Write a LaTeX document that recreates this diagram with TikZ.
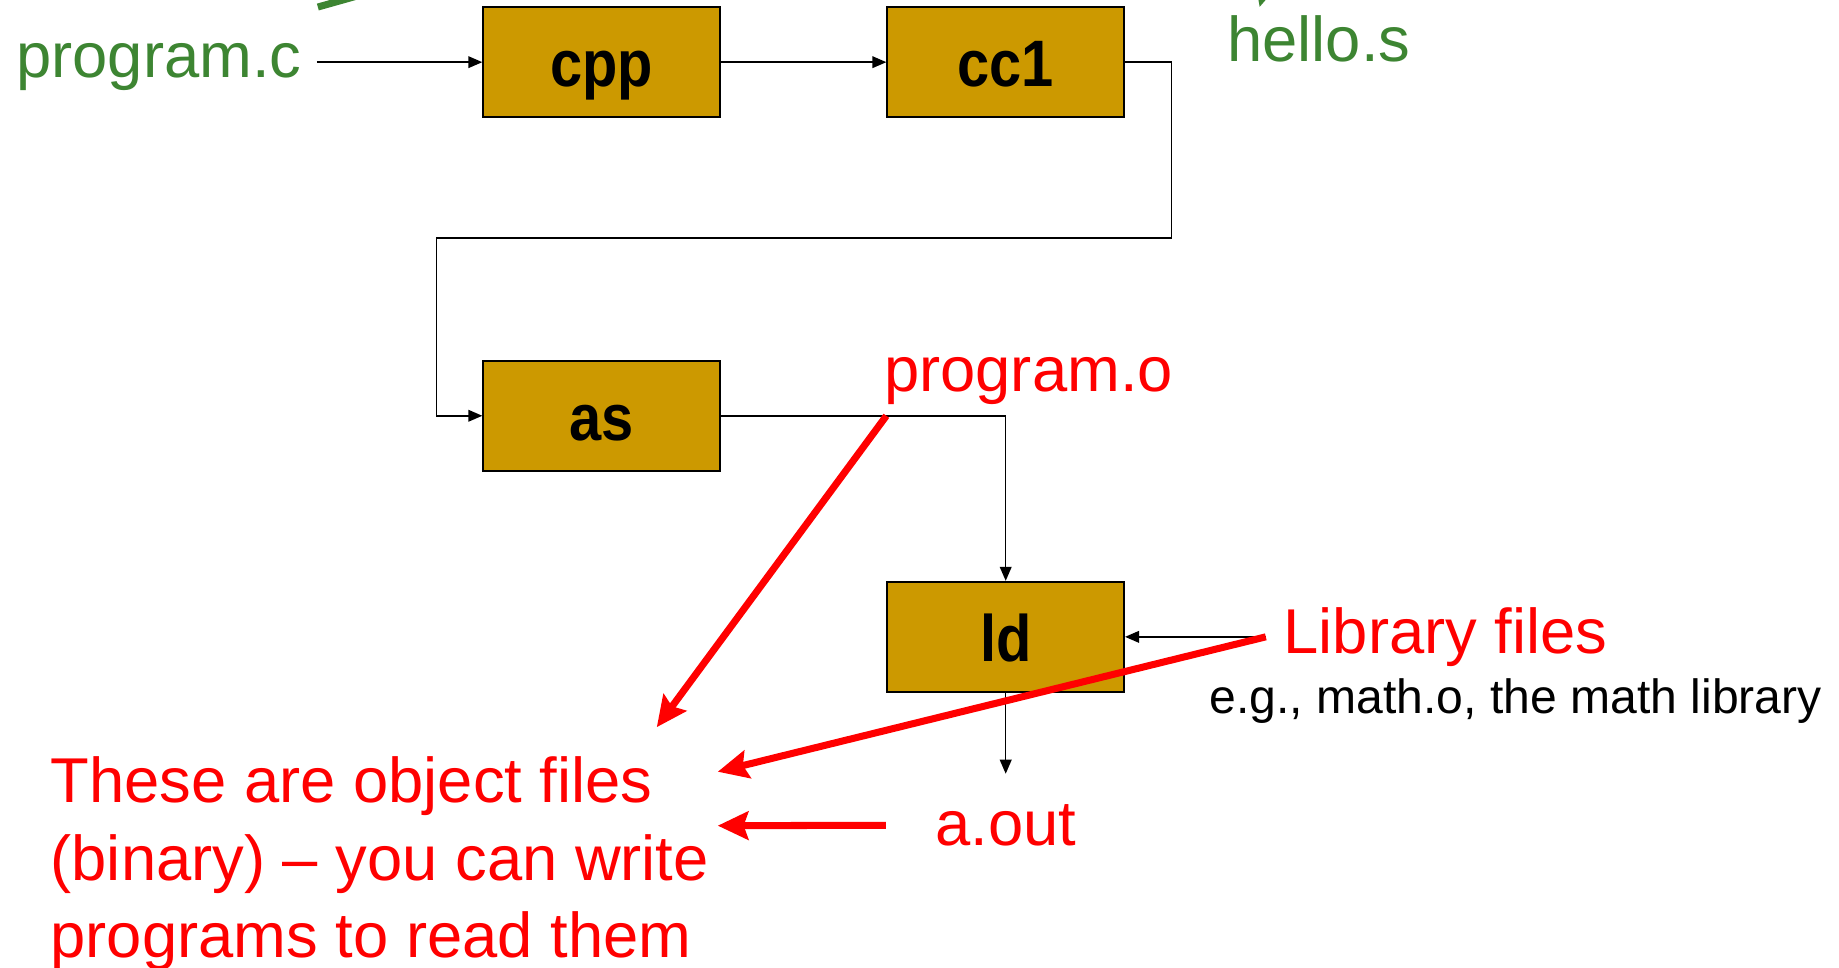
\documentclass[tikz,border=0pt]{standalone}
\usepackage{fontspec}
\setmainfont{Liberation Sans}
\newfontfamily\toolfont[FakeStretch=0.88]{Liberation Sans}
\usepackage{xcolor}
\usepackage{tikz}
\usetikzlibrary{arrows.meta,positioning}
\definecolor{toolgold}{HTML}{CC9900}
\definecolor{srcgreen}{HTML}{3D8532}
\definecolor{objred}{HTML}{FF0000}

\begin{document}
\begin{tikzpicture}[
    x=1pt, y=-1pt,
    tool/.style={rectangle, draw=black, line width=1.5pt, fill=toolgold, minimum width=202pt, minimum height=94pt, text height=42pt, text depth=0pt, font=\toolfont\fontsize{56}{60}\selectfont\bfseries},
    src/.style={inner sep=0pt, text=srcgreen, font=\fontsize{54}{66}\selectfont},
    obj/.style={inner sep=0pt, text=objred, font=\fontsize{54}{66}\selectfont},
    flow/.style={-{Triangle[length=12pt,width=10pt]}, line width=1.3pt},
    hint/.style={-{Stealth[length=26pt,width=24pt,inset=4pt]}, line width=6pt, draw=objred},
    srchint/.style={-{Stealth[length=26pt,width=24pt,inset=4pt]}, line width=6pt, draw=srcgreen}
]
    \useasboundingbox (0,0) rectangle (1568,825);
    \clip (0,0) rectangle (1568,825);

    % Tools
    \node[tool] (cpp) at (513,53) {cpp};
    \node[tool, right=141pt of cpp] (cc1) {cc1};
    \node[tool, below=206pt of cpp] (as) {as};
    \node[tool, below right=93pt and 141pt of as] (ld) {ld};

    % Files
    \node[src, left=154pt of cpp, yshift=-4pt] (progc) {program.c};
    \node[src, right=87pt of cc1, yshift=20pt] (hello) {hello.s};
    \node[obj, above right=9pt and 139pt of as.east] (progo) {program.o};
    \node[obj, right=135pt of ld] (libf) {Library files};
    \node[below=10pt of libf.south west, anchor=north west, xshift=-63pt, inner sep=0pt, font=\fontsize{41}{48}\selectfont] (eg) {e.g., math.o, the math library};
    \node[obj, below=95pt of ld] (aout) {a.out};
    \node[obj, align=left, anchor=north west] (objnote) at (43,645) {These are object files\\(binary) -- you can write\\programs to read them};

    % Bends and free ends
    \coordinate (bendR) at (999,203);
    \coordinate (bendL) at (372,203);
    \coordinate (ldout) at ([yshift=-69pt]ld.south);
    \coordinate (objtail) at (progo.south west |- as.east);
    \coordinate (libtail) at ([xshift=-15pt]libf.west);
    \coordinate (aouttail) at ([xshift=-42pt]aout.west);
    \coordinate (tipA) at (560,620);
    \coordinate (tipB) at (612,658);
    \coordinate (tipC) at (612,704);
    \coordinate (gtail) at (271,6);
    \coordinate (gup) at (335,-12);
    \coordinate (gstart) at (1088,-45);
    \coordinate (gtip) at (1074,6);

    % Flow
    \draw[flow] ([xshift=13pt]progc.east |- cpp.west) -- (cpp.west);
    \draw[flow] (cpp) -- (cc1);
    \draw[flow] (cc1.east) -| (bendR) -- (bendL) |- (as.west);
    \draw[flow] (as.east) -| (ld.north);
    \draw[flow] (libtail |- ld.east) -- (ld.east);
    \draw[flow] (ld.south) -- (ldout);

    % Notes
    \draw[hint] ([xshift=2pt]objtail) -- (tipA);
    \draw[hint] (libtail) -- (tipB);
    \draw[hint] (aouttail) -- (tipC);
    \draw[srchint, -] (gtail) -- (gup);
    \draw[srchint] (gstart) -- (gtip);
\end{tikzpicture}
\end{document}
